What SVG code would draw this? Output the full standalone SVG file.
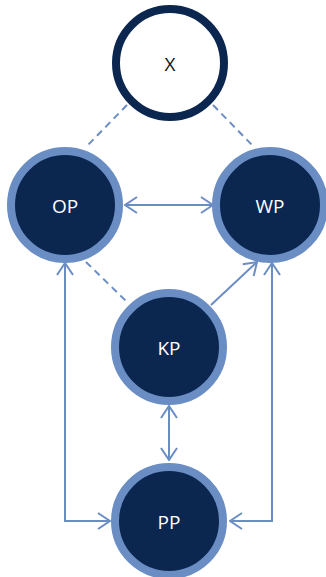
<svg xmlns="http://www.w3.org/2000/svg" width="326" height="577" viewBox="0 0 326 577">
<style>
.ring{fill:#0b2750;stroke:#6a8dc4;stroke-width:8}
.xring{fill:#ffffff;stroke:#0b2750;stroke-width:8}
.lbl{font-family:"Open Sans","Noto Sans",sans-serif;font-size:19px;fill:#ffffff;text-anchor:middle;dominant-baseline:central}
.xlbl{fill:#111111}
.c{fill:none;stroke:#6a8dc4;stroke-width:2}
.d{stroke-dasharray:7,5}
.a{marker-end:url(#ah)}
.aa{marker-start:url(#ah);marker-end:url(#ah)}
</style>
<defs>
<marker id="ah" markerUnits="userSpaceOnUse" viewBox="0 0 14 18" refX="13" refY="9" markerWidth="14" markerHeight="18" orient="auto-start-reverse">
<path d="M1,1 L13,9 L1,17" fill="none" stroke="#6a8dc4" stroke-width="2"/>
</marker>
</defs>
<g id="connectors">
<line class="c d" x1="127" y1="105" x2="86" y2="147"/>
<line class="c d" x1="213" y1="105" x2="254" y2="147"/>
<line class="c d" x1="86" y1="262" x2="127" y2="302"/>
<line class="c aa" x1="125" y1="205" x2="213" y2="205"/>
<line class="c a" x1="211" y1="305" x2="257" y2="262"/>
<polyline class="c aa" points="65,263 65,521 110,521"/>
<polyline class="c aa" points="272,263 272,521 230,521"/>
<line class="c aa" x1="169" y1="406" x2="169" y2="460"/>
</g>
<g id="node-X">
<circle class="xring" cx="170" cy="63" r="54"/>
<text class="lbl xlbl" x="170" y="64">X</text>
</g>
<g id="node-OP">
<circle class="ring" cx="65" cy="205" r="54"/>
<text class="lbl" x="65" y="206">OP</text>
</g>
<g id="node-WP">
<circle class="ring" cx="270" cy="205" r="54"/>
<text class="lbl" x="270" y="206">WP</text>
</g>
<g id="node-KP">
<circle class="ring" cx="169" cy="347" r="54"/>
<text class="lbl" x="169" y="348">KP</text>
</g>
<g id="node-PP">
<circle class="ring" cx="169" cy="521" r="54"/>
<text class="lbl" x="169" y="522">PP</text>
</g>
</svg>
